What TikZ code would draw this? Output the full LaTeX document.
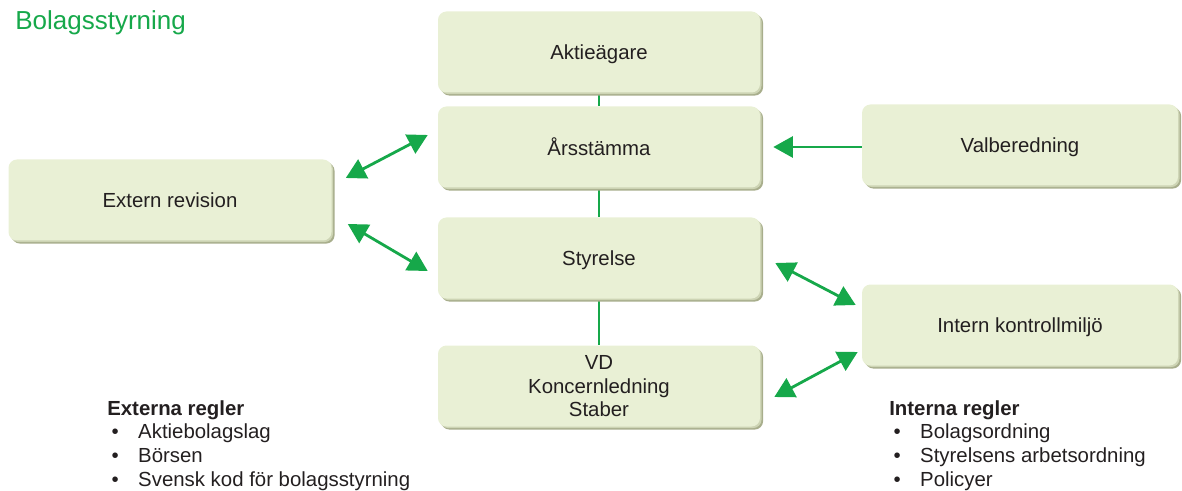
\documentclass[tikz,border=0pt]{standalone}
\usepackage{fontspec}
\setmainfont{Liberation Sans}
\usepackage{tikz}
\usetikzlibrary{backgrounds}
\usetikzlibrary{calc}
\usetikzlibrary{shadows}
\usetikzlibrary{arrows.meta}
\definecolor{brdgreen}{RGB}{22,168,74}
\definecolor{brdfill}{RGB}{233,240,213}
\definecolor{brdedge}{RGB}{168,174,140}
\definecolor{brdmid}{RGB}{205,212,180}
\definecolor{brdtext}{RGB}{35,31,32}
\newcommand{\brdpx}{0.025cm}
\newcommand{\brdbw}{322*\brdpx}
\newcommand{\brdsw}{316*\brdpx}
\newcommand{\brdbh}{81*\brdpx}
\newcommand{\brdfnt}{\fontsize{14.5}{16.5}\selectfont}
\newcommand{\brditem}{\makebox[22pt][l]{\hspace{3pt}\textbullet}}
\tikzset{
  brdbox/.style={rectangle, rounded corners=6pt, fill=brdfill, text=brdtext,
    minimum height=\brdbh, inner sep=0pt, align=center, font=\brdfnt,
    text depth=0pt,
    drop shadow={shadow xshift=2.2pt, shadow yshift=-2.2pt,
      fill=brdedge, opacity=1},
    drop shadow={shadow xshift=1.1pt, shadow yshift=-1.1pt,
      fill=brdmid, opacity=1}},
  brdlink/.style={draw=brdgreen, line width=2pt},
  brdline/.style={draw=brdgreen, line width=1.5pt},
  brdlist/.style={anchor=north west, inner sep=0pt, align=left,
    text=brdtext, font=\fontsize{14.5}{17}\selectfont}
}

\begin{document}
\begin{tikzpicture}[x=\brdpx,y=-\brdpx,
    >={Triangle[length=14pt,width=15pt]}]
  \useasboundingbox (0,0) rectangle (1182,491);

  \node (title) [anchor=base west, inner sep=0pt, text=brdgreen,
    font=\fontsize{18.5}{20}\selectfont] at (15,30) {Bolagsstyrning};

  \node (aktie) [brdbox, minimum width=\brdbw] at (599,52) {Aktieägare};
  \node (arsst) [brdbox, minimum width=\brdbw] at (599,147) {Årsstämma};
  \node (styr) [brdbox, minimum width=\brdbw] at (599,258) {Styrelse};
  \node (vd) [brdbox, minimum width=\brdbw] at (599,386)
    {VD\\Koncernledning\\Staber};
  \node (extern) [brdbox, minimum width=323*\brdpx] at (170,200)
    {Extern revision};
  \node (valb) [brdbox, minimum width=\brdsw] at (1020,145) {Valberedning};
  \node (intern) [brdbox, minimum width=\brdsw] at (1020,325)
    {Intern kontrollmiljö};

  \draw[brdlink,<->] ($(extern.east)+(14,-22)$) -- ($(arsst.west)+(-10,-12)$);
  \draw[brdlink,<->] ($(extern.east)+(16,24)$) -- ($(styr.west)+(-10,13)$);
  \draw[brdlink,->] (valb.west |- arsst) -- ($(arsst.east)+(13,0)$);
  \draw[brdlink,<->] ($(styr.east)+(15,5)$) -- ($(intern.west)+(-6,-20)$);
  \draw[brdlink,<->] ($(vd.east)+(14,11)$) -- ($(intern.west)+(-4,27)$);

  \node (extrules) [brdlist] at (107,400)
    {\textbf{Externa regler}\\
     \brditem Aktiebolagslag\\
     \brditem Börsen\\
     \brditem Svensk kod för bolagsstyrning};
  \node (intrules) [brdlist] at (889,400)
    {\textbf{Interna regler}\\
     \brditem Bolagsordning\\
     \brditem Styrelsens arbetsordning\\
     \brditem Policyer};

  \begin{scope}[on background layer]
    \draw[brdline] (aktie) -- (arsst);
    \draw[brdline] (arsst) -- (styr);
    \draw[brdline] (styr) -- (vd);
  \end{scope}
\end{tikzpicture}
\end{document}
